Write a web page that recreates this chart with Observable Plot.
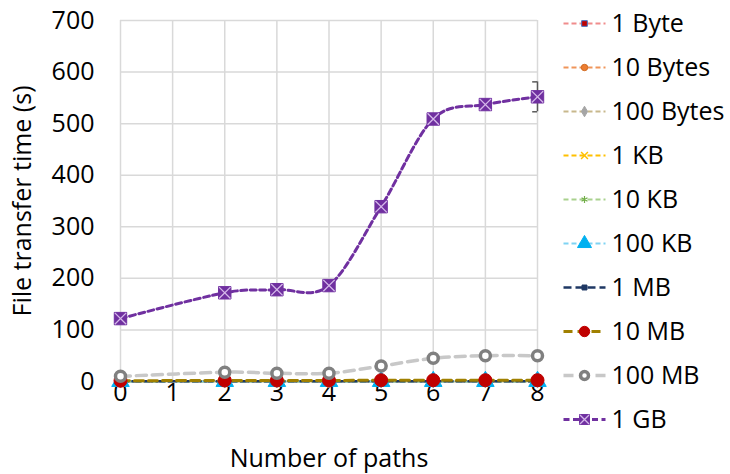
<!DOCTYPE html>
<html><head><meta charset="utf-8">
<script src="https://cdn.jsdelivr.net/npm/d3@7"></script>
<script src="https://cdn.jsdelivr.net/npm/@observablehq/plot@0.6"></script>
<style>
body{margin:0;background:#fff;}
#wrap{display:flex;width:730px;height:474px;overflow:hidden;}
svg{font-family:"Open Sans",sans-serif;}
</style>
</head><body><div id="wrap"></div>
<script>
// ---- data ----
const sizes = ["1 Byte","10 Bytes","100 Bytes","1 KB","10 KB","100 KB","1 MB","10 MB","100 MB","1 GB"];
const paths = [0,2,3,4,5,6,7,8];
const xTicks = [0,1,2,3,4,5,6,7,8];
const yTicks = [0,100,200,300,400,500,600,700];
const v1Byte   = [0.1,0.1,0.1,0.1,0.1,0.1,0.1,0.1];
const v10Bytes = [0.1,0.1,0.1,0.1,0.1,0.1,0.1,0.1];
const v100Bytes= [0.1,0.1,0.1,0.1,0.1,0.1,0.1,0.1];
const v1KB     = [0.1,0.1,0.1,0.1,0.1,0.1,0.1,0.1];
const v10KB    = [0.1,0.1,0.1,0.1,0.1,0.1,0.1,0.1];
const v100KB   = [0.2,0.2,0.2,0.2,0.2,0.2,0.2,0.2];
const v1MB     = [0.3,0.3,0.3,0.3,0.3,0.3,0.3,0.3];
const v10MB    = [1.5,2,2,2,2.5,2.5,2.5,2.5];
const v100MB   = [10,18,16,16,30,45,50,50];
const v1GB     = [122,172,178,186,339,509,537,552];
const err1GB   = [1,2,2,2,3,9,3,29];

const seriesValues = [v1Byte,v10Bytes,v100Bytes,v1KB,v10KB,v100KB,v1MB,v10MB,v100MB,v1GB];

// ---- styles ----
const styles = [
  {line:"#F08C8C", dash:"5,3", w:2, sym:"square", fill:"#C00000", stroke:"#4472C4", sw:1, r:4},
  {line:"#F0955A", dash:"5,3", w:2, sym:"circle", fill:"#ED7D31", stroke:"#D06A20", sw:1, r:4},
  {line:"#C8B88C", dash:"5,3", w:2, sym:"diamond", fill:"#A5A5A5", stroke:"#A5A5A5", sw:1, r:4},
  {line:"#FFC000", dash:"5,3", w:2, sym:"times", fill:"none", stroke:"#FFC000", sw:1.5, r:4},
  {line:"#A9D18E", dash:"5,3", w:2, sym:"asterisk", fill:"none", stroke:"#70AD47", sw:1.2, r:4},
  {line:"#7FD3F3", dash:"5,3", w:2, sym:"triangle", fill:"#00B0F0", stroke:"#00B0F0", sw:1, r:6.5},
  {line:"#1F3864", dash:"8,4", w:2.5, sym:"square", fill:"#1F3864", stroke:"#1F3864", sw:1, r:3.5},
  {line:"#A08000", dash:"9,5", w:3, sym:"circle", fill:"#C00000", stroke:"#C00000", sw:1, r:6.5},
  {line:"#C8C8C8", dash:"10,6", w:3.5, sym:"circle", fill:"#ffffff", stroke:"#808080", sw:3.5, r:5},
  {line:"#7030A0", dash:"6,3.5", w:3, sym:"square", fill:"#7030A0", stroke:"#7030A0", sw:1, r:7, cross:"#D5B8EA"}
];

const series = sizes.map((name,i)=>({name, style:styles[i], data: paths.map((p,j)=>({x:p, y:seriesValues[i][j], name}))}));
const errData = paths.map((p,j)=>({x:p, y:v1GB[j], lo:v1GB[j]-err1GB[j], hi:v1GB[j]+err1GB[j]}));

const capSymbol = {draw(ctx,size){const w=Math.sqrt(size); ctx.moveTo(-w,0); ctx.lineTo(w,0);}};

function markerMarks(data, s, x, y, scale){
  const m = [Plot.dot(data, {x, y, symbol:s.sym, r:s.r*scale, fill:s.fill, stroke:s.stroke, strokeWidth:s.sw})];
  if (s.cross) m.push(Plot.dot(data, {x, y, symbol:"times", r:s.r*0.75*scale, stroke:s.cross, strokeWidth:1.3}));
  return m;
}

const marks = [
  Plot.gridX(xTicks, {stroke:"#D9D9D9", strokeOpacity:1, strokeWidth:1.5}),
  Plot.gridY(yTicks, {stroke:"#D9D9D9", strokeOpacity:1, strokeWidth:1.5}),
  Plot.axisY(yTicks, {tickSize:0, tickPadding:26, label:"File transfer time (s)", labelAnchor:"center", labelArrow:"none", labelOffset:107}),
  Plot.axisX(xTicks, {tickSize:0, tickPadding:2, label:"Number of paths", labelAnchor:"center", labelArrow:"none", labelOffset:85})
];
for (const s of series){
  marks.push(Plot.line(s.data, {x:"x", y:"y", curve:"cardinal", stroke:s.style.line, strokeWidth:s.style.w, strokeDasharray:s.style.dash}));
}
marks.push(Plot.ruleX(errData, {x:"x", y1:"lo", y2:"hi", stroke:"#595959", strokeWidth:1.5}));
marks.push(Plot.dot(errData, {x:"x", y:"lo", symbol:capSymbol, r:3, stroke:"#595959", strokeWidth:1.5, clip:"frame"}));
marks.push(Plot.dot(errData, {x:"x", y:"hi", symbol:capSymbol, r:3, stroke:"#595959", strokeWidth:1.5, clip:"frame"}));
for (const s of series){
  marks.push(...markerMarks(s.data, s.style, "x", "y", 1));
}

const main = Plot.plot({
  width:555, height:474,
  marginLeft:120, marginRight:18, marginTop:20, marginBottom:93,
  x:{domain:[0,8]},
  y:{domain:[0,700]},
  style:{fontSize:"25px", fontFamily:"'Open Sans', sans-serif", color:"#000", background:"#fff"},
  marks
});

// ---- legend ----
const lmarks = [];
for (const s of series){
  const d = [{name:s.name}];
  lmarks.push(Plot.link(d, {x1:()=>0, x2:()=>1, y1:"name", y2:"name", stroke:s.style.line, strokeWidth:s.style.w, strokeDasharray:s.style.dash}));
  lmarks.push(...markerMarks(d, s.style, ()=>0.5, "name", 0.8));
}
lmarks.push(Plot.text(sizes, {x:()=>1, y:d=>d, text:d=>d, textAnchor:"start", dx:6, fontSize:25, fill:"#000"}));

const legend = Plot.plot({
  width:175, height:474, margin:0,
  x:{domain:[0,1], range:[8,50], axis:null},
  y:{type:"point", domain:sizes, range:[20,421], padding:0, axis:null},
  style:{fontFamily:"'Open Sans', sans-serif", color:"#000", background:"#fff"},
  marks:lmarks
});

const wrap = document.getElementById("wrap");
wrap.appendChild(main);
wrap.appendChild(legend);
</script>
</body></html>
